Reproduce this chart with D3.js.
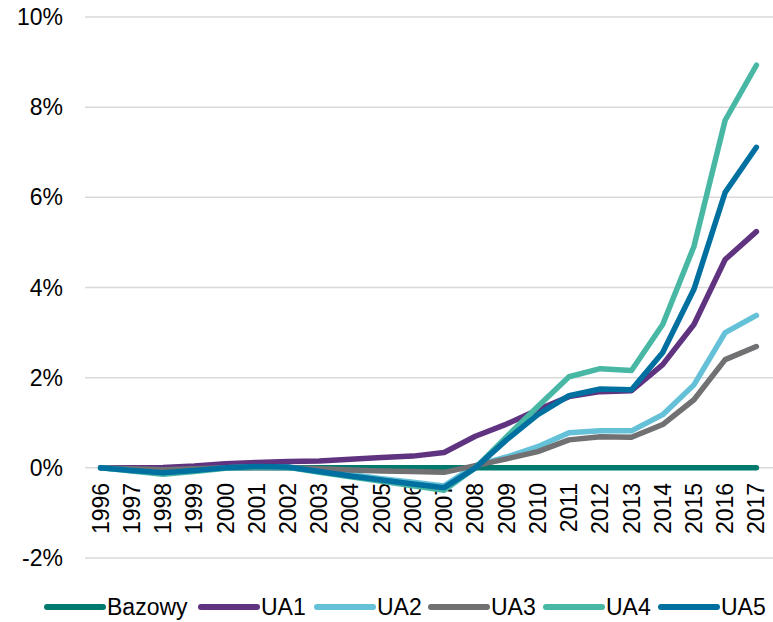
<!DOCTYPE html>
<html>
<head>
<meta charset="utf-8">
<script src="https://cdn.jsdelivr.net/npm/d3@7"></script>
<style>
  body { margin: 0; background: #fff; }
  text { font-family: "Liberation Sans", Arial, sans-serif; fill: #000; }
</style>
</head>
<body>
<svg id="chart"></svg>
<script>
// years on the category axis
let years = ["1996","1997","1998","1999","2000","2001","2002","2003","2004","2005","2006",
             "2007","2008","2009","2010","2011","2012","2013","2014","2015","2016","2017"]

// series values, in %
let bazowy = [0,0,0,0,0,0,0,0,0,0,0,0,0,0,0,0,0,0,0,0,0,0]
let ua1 = [0,0,0.01,0.04,0.09,0.12,0.14,0.15,0.19,0.23,0.26,0.34,0.7,0.97,1.29,1.58,1.69,1.71,2.29,3.18,4.62,5.24]
let ua2 = [0,-0.05,-0.1,-0.05,0,0.02,0.01,-0.07,-0.15,-0.24,-0.32,-0.4,0.05,0.24,0.47,0.78,0.82,0.82,1.18,1.84,3.0,3.38]
let ua3 = [0,-0.02,-0.04,-0.02,0,0.01,0.01,-0.02,-0.05,-0.07,-0.08,-0.1,0.05,0.2,0.36,0.62,0.69,0.68,0.96,1.51,2.4,2.69]
let ua4 = [0,-0.07,-0.14,-0.08,-0.01,0.02,0.01,-0.1,-0.2,-0.3,-0.4,-0.5,0,0.69,1.36,2.02,2.2,2.16,3.18,4.91,7.71,8.93]
let ua5 = [0,-0.06,-0.11,-0.06,0,0.03,0.02,-0.08,-0.18,-0.27,-0.36,-0.44,0,0.62,1.18,1.6,1.75,1.73,2.56,3.96,6.11,7.11]

let names = ["Bazowy","UA1","UA2","UA3","UA4","UA5"]
let colors = ["#007A6E","#5F3380","#65C1D8","#717174","#48B8A5","#0070A0"]
let yTicks = [-2,0,2,4,6,8,10]

let series = [bazowy, ua1, ua2, ua3, ua4, ua5]

let width = 773
let height = 622

let svg = d3.select("#chart")
    .attr("width", width)
    .attr("height", height)

let xScale = d3.scaleBand()
    .domain(years)
    .range([85, 772])

let yScale = d3.scaleLinear()
    .domain([-2, 10])
    .range([558, 17])

// gridlines
svg.append("g")
    .selectAll("line")
    .data(yTicks)
    .enter()
    .append("line")
    .attr("x1", 85)
    .attr("x2", 773)
    .attr("y1", d => yScale(d))
    .attr("y2", d => yScale(d))
    .attr("stroke", "#d9d9d9")
    .attr("stroke-width", 1.5)

// y tick labels
svg.append("g")
    .selectAll("text")
    .data(yTicks)
    .enter()
    .append("text")
    .attr("x", 63)
    .attr("y", d => yScale(d))
    .attr("dy", "0.35em")
    .attr("text-anchor", "end")
    .style("font-size", "23px")
    .text(d => d + "%")

// x labels, rotated, hanging below the 0% line
let xAxis = svg.append("g")
    .attr("transform", `translate(0, ${yScale(0)})`)
    .call(d3.axisBottom(xScale).tickSize(0).tickPadding(0))

xAxis.select(".domain").remove()
xAxis.selectAll("text")
    .attr("transform", "rotate(-90)")
    .attr("x", -15)
    .attr("y", 0)
    .attr("dy", "0.35em")
    .attr("text-anchor", "end")
    .style("font-size", "23px")
    .style("font-family", "'Liberation Sans', Arial, sans-serif")

let line = d3.line()
    .x((d, i) => xScale(years[i]) + xScale.bandwidth() / 2)
    .y(d => yScale(d))

svg.append("g")
    .selectAll("path")
    .data(series)
    .enter()
    .append("path")
    .attr("d", line)
    .attr("fill", "none")
    .attr("stroke", (d, i) => colors[i])
    .attr("stroke-width", 5.5)
    .attr("stroke-linecap", "round")
    .attr("stroke-linejoin", "round")

// legend
let legendX = [47, 201, 317, 431, 546, 661]
let legend = svg.append("g")
    .selectAll("g")
    .data(names)
    .enter()
    .append("g")
    .attr("transform", (d, i) => `translate(${legendX[i]}, 607)`)

legend.append("line")
    .attr("x1", 0)
    .attr("x2", 56)
    .attr("stroke", (d, i) => colors[i])
    .attr("stroke-width", 6)
    .attr("stroke-linecap", "round")

legend.append("text")
    .attr("x", 60)
    .attr("dy", "0.35em")
    .style("font-size", "23px")
    .text(d => d)
</script>
</body>
</html>
